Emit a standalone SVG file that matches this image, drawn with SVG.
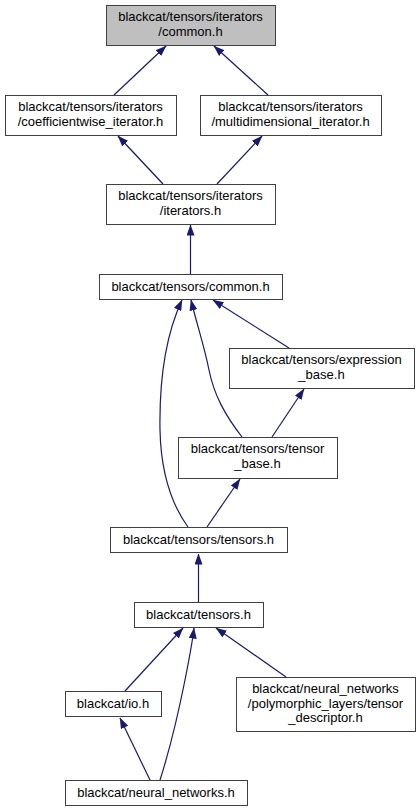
<svg xmlns="http://www.w3.org/2000/svg" width="420" height="812" viewBox="0 0 420 812">
<style>
.n rect{fill:#ffffff;stroke:#404040;stroke-width:1}
.n.g rect{fill:#bfbfbf}
.n text{font-family:"Liberation Sans",Arial,sans-serif;font-size:13px;fill:#000;text-anchor:middle}
#edges path{fill:none;stroke:#191970;stroke-width:1.2;marker-end:url(#ah)}
</style>
<defs>
<marker id="ah" viewBox="0 0 11 8" refX="10.5" refY="4" markerWidth="11" markerHeight="8" markerUnits="userSpaceOnUse" orient="auto">
<path d="M0,0 L11,4 L0,8 z" fill="#191970" stroke="none"/>
</marker>
</defs>
<rect width="420" height="812" fill="#ffffff"/>
<g id="edges">
<path d="M114,95 L166,46"/>
<path d="M268,95 L214,46"/>
<path d="M163,184 L118,136"/>
<path d="M217,184 L262,136"/>
<path d="M190.5,274 L190.5,225"/>
<path d="M289,348 L213,300"/>
<path d="M242,437 C225,415 214,395 209,370 C204,345 197,325 191,300"/>
<path d="M188,527 C172,505 161,475 160,430 C159,370 168,330 182,300"/>
<path d="M272,437 L304,389"/>
<path d="M207,527 L240,479"/>
<path d="M198.5,602 L198.5,554"/>
<path d="M125,691 L183,628"/>
<path d="M286,677 L216,628"/>
<path d="M160,780 C168,755 178,715 185,680 C189,660 192,645 194,628"/>
<path d="M150,780 L120,718"/>
</g>
<g id="n1" class="n g"><rect x="106.5" y="5.5" width="169" height="40"/><text x="190.5" y="21">blackcat/tensors/iterators</text><text x="190.5" y="36">/common.h</text></g>
<g id="n2" class="n"><rect x="5.5" y="95.5" width="171" height="40"/><text x="90.5" y="111">blackcat/tensors/iterators</text><text x="90.5" y="126">/coefficientwise_iterator.h</text></g>
<g id="n3" class="n"><rect x="200.5" y="95.5" width="181" height="40"/><text x="290.5" y="111">blackcat/tensors/iterators</text><text x="290.5" y="126">/multidimensional_iterator.h</text></g>
<g id="n4" class="n"><rect x="106.5" y="184.5" width="169" height="40"/><text x="190.5" y="200">blackcat/tensors/iterators</text><text x="190.5" y="215">/iterators.h</text></g>
<g id="n5" class="n"><rect x="99.5" y="274.5" width="183" height="25"/><text x="190.5" y="291">blackcat/tensors/common.h</text></g>
<g id="n6" class="n"><rect x="229.5" y="348.5" width="185" height="40"/><text x="321.5" y="364">blackcat/tensors/expression</text><text x="321.5" y="379">_base.h</text></g>
<g id="n7" class="n"><rect x="178.5" y="437.5" width="159" height="41"/><text x="257.5" y="453">blackcat/tensors/tensor</text><text x="257.5" y="468">_base.h</text></g>
<g id="n8" class="n"><rect x="110.5" y="527.5" width="177" height="25"/><text x="198.5" y="544">blackcat/tensors/tensors.h</text></g>
<g id="n9" class="n"><rect x="134.5" y="602.5" width="129" height="25"/><text x="198.5" y="619">blackcat/tensors.h</text></g>
<g id="n10" class="n"><rect x="65.5" y="691.5" width="96" height="25"/><text x="113" y="708">blackcat/io.h</text></g>
<g id="n11" class="n"><rect x="236.5" y="677.5" width="179" height="54"/><text x="325.5" y="693">blackcat/neural_networks</text><text x="325.5" y="708">/polymorphic_layers/tensor</text><text x="325.5" y="722">_descriptor.h</text></g>
<g id="n12" class="n"><rect x="65.5" y="780.5" width="182" height="25"/><text x="156" y="797">blackcat/neural_networks.h</text></g>
</svg>
